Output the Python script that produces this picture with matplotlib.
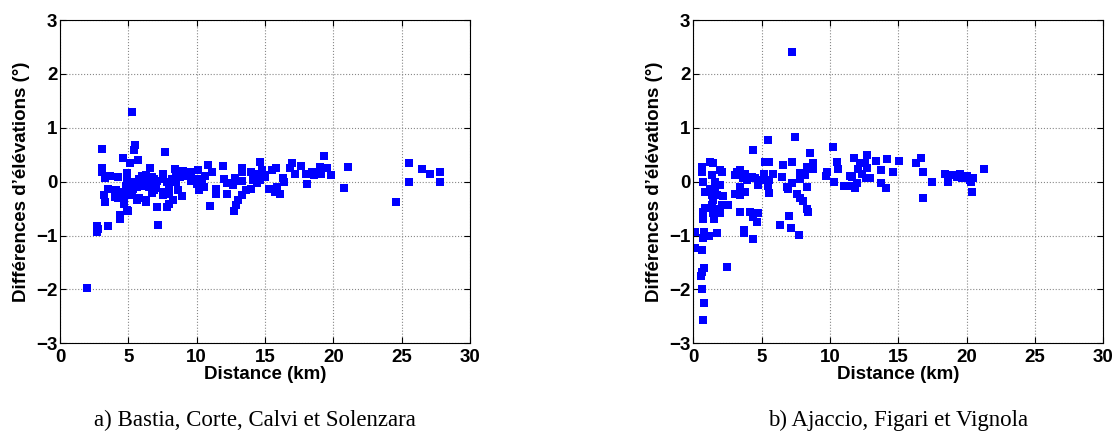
#!/usr/bin/env python3
"""Elevation differences vs distance, two station groups side by side."""

import matplotlib
matplotlib.use("Agg")
import matplotlib.pyplot as plt

# left panel: Bastia, Corte, Calvi et Solenzara -- (distance km, diff deg)
points_a = [
    (2.0, -1.97), (2.72, -0.83), (2.72, -0.93), (2.8, -0.88), (3.53, -0.83),
    (3.09, 0.60), (3.04, 0.25), (3.04, 0.18), (3.1, 0.20), (3.2, -0.25),
    (3.28, -0.37), (3.3, 0.06), (3.5, -0.13), (3.65, 0.10), (4.0, -0.28),
    (4.1, -0.16), (4.26, 0.08), (4.26, -0.31), (4.38, -0.62), (4.38, -0.70),
    (4.5, -0.19), (4.62, 0.43), (4.62, -0.25), (4.7, -0.33), (4.7, -0.42),
    (4.8, -0.08), (4.87, 0.16), (4.9, -0.53), (4.91, 0.06), (4.9, -0.15),
    (5.0, 0.0), (5.0, -0.55), (5.1, -0.25), (5.13, 0.34), (5.2, -0.10),
    (5.23, -0.22), (5.3, 1.29), (5.35, -0.13), (5.38, 0.59), (5.47, 0.68),
    (5.5, 0.0), (5.6, -0.10), (5.6, -0.34), (5.72, 0.41), (5.8, 0.05),
    (5.8, -0.31), (5.9, -0.05), (6.0, 0.10), (6.1, 0.0), (6.2, -0.08),
    (6.3, 0.12), (6.3, -0.34), (6.3, -0.38), (6.4, 0.05), (6.5, -0.10),
    (6.57, 0.25), (6.6, 0.0), (6.7, 0.08), (6.7, -0.21), (6.8, -0.05),
    (6.9, 0.05), (6.9, -0.15), (7.0, -0.12), (7.1, 0.02), (7.1, -0.47),
    (7.2, -0.80), (7.5, 0.05), (7.5, -0.20), (7.5, -0.25), (7.54, 0.14),
    (7.69, 0.55), (7.8, 0.0), (7.8, -0.47), (8.0, -0.10), (8.0, -0.22),
    (8.0, -0.41), (8.2, 0.05), (8.3, -0.34), (8.3, 0.0), (8.4, 0.24),
    (8.5, 0.20), (8.5, 0.0), (8.6, 0.12), (8.6, -0.16), (8.8, 0.08),
    (8.96, -0.27), (9.0, 0.15), (9.0, 0.20), (9.3, 0.10), (9.5, 0.18),
    (9.6, 0.10), (9.6, 0.02), (9.8, 0.05), (10.0, -0.05), (10.1, 0.21),
    (10.1, 0.02), (10.2, -0.15), (10.3, 0.05), (10.4, 0.0), (10.5, -0.10),
    (10.6, 0.10), (10.8, 0.31), (11.0, -0.46), (11.1, 0.18), (11.4, -0.13),
    (11.4, -0.23), (11.9, 0.29), (12.0, 0.05), (12.2, -0.02), (12.2, -0.22),
    (12.65, -0.07), (12.7, -0.55), (12.8, 0.06), (12.9, 0.02), (12.9, -0.44),
    (13.0, -0.34), (13.3, 0.26), (13.3, 0.17), (13.3, 0.02), (13.3, -0.25),
    (13.6, -0.16), (14.0, 0.18), (14.0, -0.13), (14.1, 0.03), (14.3, 0.10),
    (14.4, 0.15), (14.4, -0.03), (14.6, 0.37), (14.6, 0.03), (14.8, 0.21),
    (14.9, 0.12), (15.0, 0.09), (15.3, -0.13), (15.5, 0.21), (15.6, -0.13),
    (15.7, -0.19), (15.8, 0.25), (15.9, -0.10), (16.1, -0.23), (16.3, 0.06),
    (16.4, 0.0), (16.8, 0.25), (17.0, 0.34), (17.2, 0.15), (17.6, 0.29),
    (18.0, 0.15), (18.05, -0.05), (18.4, 0.18), (18.6, 0.12), (19.0, 0.28),
    (19.1, 0.15), (19.3, 0.47), (19.5, 0.25), (19.8, 0.12), (20.8, -0.11),
    (21.07, 0.28), (24.6, -0.38), (25.5, 0.34), (25.5, 0.0), (26.45, 0.23),
    (27.1, 0.15), (27.8, 0.18), (27.8, 0.0),
]

# right panel: Ajaccio, Figari et Vignola -- (distance km, diff deg)
points_b = [
    (0.12, -0.94), (0.12, -1.24), (0.54, -1.76), (0.61, 0.28), (0.61, 0.18),
    (0.61, -1.68), (0.66, -1.26), (0.66, -1.99), (0.69, -1.04), (0.73, 0.0),
    (0.73, -0.56), (0.73, -0.70), (0.73, -2.57), (0.78, -0.93), (0.78, -1.60),
    (0.8, -2.26), (0.86, -0.19), (0.86, -0.48), (1.17, -1.01), (1.22, 0.37),
    (1.22, -0.13), (1.35, 0.12), (1.35, -0.25), (1.35, -0.44), (1.46, 0.34),
    (1.46, -0.34), (1.46, -0.58), (1.51, -0.70), (1.59, 0.0), (1.59, -0.10),
    (1.59, -0.50), (1.71, -0.25), (1.76, -0.96), (1.95, -0.07), (1.95, 0.21),
    (1.95, -0.58), (2.08, -0.44), (2.12, 0.18), (2.19, -0.27), (2.44, -1.58),
    (2.56, -0.44), (3.05, 0.12), (3.05, -0.22), (3.17, 0.18), (3.42, 0.21),
    (3.42, -0.10), (3.42, -0.25), (3.42, -0.56), (3.66, 0.06), (3.73, -0.90),
    (3.73, -0.96), (3.78, 0.15), (3.78, -0.19), (3.9, 0.03), (4.15, -0.56),
    (4.27, 0.08), (4.39, 0.59), (4.39, -0.65), (4.39, -1.07), (4.51, 0.06),
    (4.64, -0.75), (4.75, -0.07), (4.75, -0.58), (4.88, 0.03), (5.17, 0.15),
    (5.25, 0.37), (5.25, 0.03), (5.49, 0.77), (5.49, -0.08), (5.54, 0.37),
    (5.56, 0.03), (5.56, -0.21), (5.85, 0.15), (6.34, -0.81), (6.47, 0.09),
    (6.54, 0.31), (6.83, -0.10), (6.95, -0.13), (7.02, -0.64), (7.15, -0.86),
    (7.2, 0.37), (7.24, -0.03), (7.24, 2.41), (7.44, 0.83), (7.6, -0.23),
    (7.76, -0.99), (7.8, 0.16), (7.8, 0.04), (7.8, -0.31), (8.05, -0.36),
    (8.17, 0.12), (8.3, 0.27), (8.3, -0.10), (8.34, -0.50), (8.41, -0.56),
    (8.54, 0.54), (8.73, 0.23), (8.78, 0.34), (9.7, 0.10), (9.76, 0.18),
    (10.24, 0.65), (10.3, 0.0), (10.5, 0.37), (10.6, 0.24), (11.0, -0.08),
    (11.5, 0.10), (11.5, -0.08), (11.59, 0.09), (11.78, 0.44), (11.8, -0.11),
    (11.95, -0.03), (12.07, 0.23), (12.2, 0.35), (12.32, 0.15), (12.56, 0.34),
    (12.63, 0.06), (12.69, 0.50), (12.69, 0.25), (12.93, 0.06), (13.34, 0.39),
    (13.7, 0.21), (13.7, -0.02), (14.07, -0.11), (14.15, 0.42), (14.59, 0.18),
    (15.07, 0.38), (16.27, 0.34), (16.66, 0.43), (16.78, -0.31), (16.82, 0.17),
    (17.44, 0.0), (18.41, 0.15), (18.65, 0.09), (18.65, 0.0), (19.02, 0.12),
    (19.27, 0.09), (19.51, 0.15), (19.63, 0.06), (20.0, 0.10), (20.24, 0.03),
    (20.29, 0.0), (20.39, -0.20), (20.48, 0.07), (21.29, 0.23),
]

captions = ["a) Bastia, Corte, Calvi et Solenzara", "b) Ajaccio, Figari et Vignola"]
xticks = [0, 5, 10, 15, 20, 25, 30]
yticks = [-3, -2, -1, 0, 1, 2, 3]

plt.rcParams["font.family"] = ["Liberation Sans", "DejaVu Sans"]

fig = plt.figure(figsize=(11.16, 4.34), dpi=100)
ax_a = fig.add_axes([0.0538, 0.2090, 0.3674, 0.7449])
ax_b = fig.add_axes([0.6212, 0.2090, 0.3674, 0.7449])

panels = [(ax_a, points_a, captions[0], 0.476), (ax_b, points_b, captions[1], 0.5)]
for ax, pts, cap, cap_x in panels:
    xs, ys = zip(*pts)
    ax.plot(xs, ys, linestyle="none", marker="s", markersize=6,
            color="#0000ff", markeredgewidth=0)
    ax.set_xlim(0, 30)
    ax.set_ylim(-3, 3)
    ax.set_xticks(xticks)
    ax.set_yticks(yticks)
    ax.tick_params(direction="in", top=True, right=True, length=4,
                   labelsize=13.5)
    ax.tick_params(axis="x", pad=4)
    ax.tick_params(axis="y", pad=2)
    for lbl in ax.get_xticklabels() + ax.get_yticklabels():
        lbl.set_fontweight("bold")
    ax.grid(True, linestyle=":", color="#888888", linewidth=0.8)
    ax.set_axisbelow(True)
    ax.set_xlabel("Distance (km)", fontsize=13.5, fontweight="bold")
    ax.set_ylabel("Différences d’élévations (°)", fontsize=13.5, fontweight="bold")
    ax.xaxis.set_label_coords(0.5, -0.07)
    ax.yaxis.set_label_coords(-0.074, 0.5)
    ax.text(cap_x, -0.24, cap, transform=ax.transAxes, ha="center", va="center",
            fontsize=16.5, family=["Liberation Serif", "DejaVu Serif"])

fig.savefig("out.png", dpi=100)
